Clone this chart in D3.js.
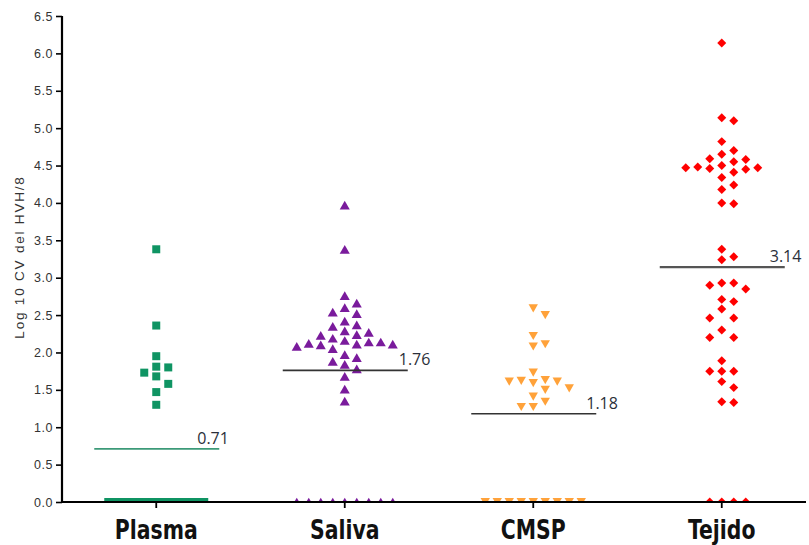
<!DOCTYPE html>
<html>
<head>
<meta charset="utf-8">
<script src="https://cdn.jsdelivr.net/npm/d3@7"></script>
<style>
  html, body { margin: 0; padding: 0; background: #fff; }
  svg { display: block; }
</style>
</head>
<body>
<svg id="chart" width="809" height="545"></svg>
<script>
// ---------- data ----------
const categories = ["Plasma", "Saliva", "CMSP", "Tejido"];

const plasmaValues = [3.38, 2.36, 1.95, 1.81, 1.80, 1.73, 1.68, 1.58, 1.47, 1.30,
  0, 0, 0, 0, 0, 0, 0, 0, 0, 0, 0, 0, 0, 0, 0, 0, 0];

const salivaValues = [3.97, 3.38, 2.76, 2.66, 2.60, 2.54, 2.52, 2.42, 2.37, 2.35,
  2.29, 2.27, 2.24, 2.23, 2.19, 2.16, 2.14, 2.14, 2.12, 2.11, 2.11, 2.10, 2.08,
  2.05, 1.97, 1.93, 1.88, 1.84, 1.78, 1.68, 1.51, 1.35,
  0, 0, 0, 0, 0, 0, 0, 0, 0];

const cmspValues = [2.59, 2.50, 2.22, 2.11, 2.08, 1.73, 1.63, 1.62, 1.61, 1.61,
  1.59, 1.52, 1.50, 1.41, 1.34, 1.27, 1.27,
  0, 0, 0, 0, 0, 0, 0, 0, 0];

const tejidoValues = [6.14, 5.14, 5.10, 4.82, 4.70, 4.65, 4.59, 4.58, 4.55, 4.50,
  4.48, 4.47, 4.47, 4.46, 4.45, 4.41, 4.34, 4.24, 4.18, 4.00, 3.99, 3.38, 3.28,
  3.24, 2.93, 2.93, 2.90, 2.85, 2.71, 2.68, 2.58, 2.46, 2.46, 2.30, 2.20, 2.20,
  1.89, 1.75, 1.75, 1.75, 1.61, 1.53, 1.34, 1.33,
  0, 0, 0, 0];

const meanValues = [0.71, 1.76, 1.18, 3.14];
const meanLabels = ["0.71", "1.76", "1.18", "3.14"];
const yTickValues = [0, 0.5, 1, 1.5, 2, 2.5, 3, 3.5, 4, 4.5, 5, 5.5, 6, 6.5];
const yTitle = "Log 10 CV del HVH/8";

const seriesValues = [plasmaValues, salivaValues, cmspValues, tejidoValues];

// ---------- styles ----------
const colors = ["#0f9463", "#7a1b9c", "#ffa23a", "#ff0000"];
const meanLineColors = ["#3c9a78", "#333333", "#333333", "#555555"];
const meanLineWidths = [1.6, 1.6, 1.6, 2.2];
const meanLabelDx = [41, 54, 53, 48];

// ---------- layout ----------
const svg = d3.select("#chart");
const mLeft = 62, mRight = 816, mTop = 16, mBottom = 502;

const x = d3.scaleBand().domain(categories).range([mLeft, mRight]);
const y = d3.scaleLinear().domain([0, 6.5]).range([mBottom, mTop]);

svg.append("defs").append("clipPath").attr("id", "plotClip")
  .append("rect").attr("x", mLeft).attr("y", 0).attr("width", 809 - mLeft).attr("height", mBottom);

// symbols (triangles re-centred on their bounding box)
const triSize = 44, triDownSize = 38;
const triShift = s => Math.sqrt(s / (Math.sqrt(3) * 3)) / 2;
const symbols = [
  { path: d3.symbol().type(d3.symbolSquare).size(64)(), rot: 0, dy: 0 },
  { path: d3.symbol().type(d3.symbolTriangle).size(triSize)(), rot: 0, dy: triShift(triSize) },
  { path: d3.symbol().type(d3.symbolTriangle).size(triDownSize)(), rot: 180, dy: triShift(triDownSize) },
  { path: d3.symbol().type(d3.symbolSquare).size(40)(), rot: 45, dy: 0 }
];

// beeswarm layout
const slotW = 12;
const minDy = 9;
function layout(values, cx) {
  const pts = values.map(v => ({ v, py: y(v) }));
  const nz = pts.filter(p => p.v !== 0).sort((a, b) => b.v - a.v);
  const zs = pts.filter(p => p.v === 0);
  const order = [0, 1, -1, 2, -2, 3, -3, 4, -4, 5, -5, 6, -6];
  const placed = [];
  nz.forEach(p => {
    for (const k of order) {
      const clash = placed.some(q => q.k === k && Math.abs(q.py - p.py) < minDy);
      if (!clash) { p.k = k; p.px = cx + k * slotW; placed.push(p); break; }
    }
  });
  const n = zs.length;
  const sp = n > 1 ? Math.min(slotW, (8 * slotW) / (n - 1)) : 0;
  const zOrder = [];
  for (let i = 0; zOrder.length < n; i++) {
    if (i === 0) zOrder.push(0); else { zOrder.push(i); if (zOrder.length < n) zOrder.push(-i); }
  }
  zs.forEach((p, i) => { p.px = cx + zOrder[i] * sp; });
  return nz.concat(zs);
}

// points
const plot = svg.append("g").attr("clip-path", "url(#plotClip)");
categories.forEach((c, i) => {
  const cx = x(c) + x.bandwidth() / 2;
  const pts = layout(seriesValues[i], cx);
  plot.append("g").selectAll("path").data(pts).join("path")
    .attr("d", symbols[i].path)
    .attr("transform", d => `translate(${d.px},${d.py}) rotate(${symbols[i].rot}) translate(0,${symbols[i].dy})`)
    .attr("fill", colors[i]);
});

// mean lines
categories.forEach((c, i) => {
  const cx = x(c) + x.bandwidth() / 2;
  const my = y(meanValues[i]);
  svg.append("line")
    .attr("x1", cx - 62).attr("x2", cx + 63)
    .attr("y1", my).attr("y2", my)
    .attr("stroke", meanLineColors[i]).attr("stroke-width", meanLineWidths[i]);
  svg.append("text")
    .attr("x", cx + meanLabelDx[i]).attr("y", my - 5)
    .attr("font-family", "'Open Sans', 'Liberation Sans', sans-serif")
    .attr("font-size", 16)
    .attr("fill", "#2b2f3a")
    .text(meanLabels[i]);
});

// y axis
const yAxis = svg.append("g").attr("transform", `translate(${mLeft},0)`)
  .call(d3.axisLeft(y).tickValues(yTickValues).tickFormat(d3.format(".1f")).tickSize(6).tickPadding(3));
yAxis.select(".domain").attr("stroke", "#000").attr("stroke-width", 2.2).attr("d", `M0,${mTop}V${mBottom}`);
yAxis.selectAll(".tick line").attr("stroke", "#000").attr("stroke-width", 1.6);
yAxis.selectAll(".tick text")
  .attr("font-family", "'Liberation Sans', Arial, sans-serif")
  .attr("font-size", 12.5).attr("letter-spacing", "0.5px")
  .attr("fill", "#333");

// x axis
const xAxis = svg.append("g").attr("transform", `translate(0,${mBottom})`)
  .call(d3.axisBottom(x).tickSize(6).tickPadding(12));
xAxis.select(".domain").attr("stroke", "#000").attr("stroke-width", 1.8).attr("d", `M${mLeft},0H806`);
xAxis.selectAll(".tick line").attr("stroke", "#000").attr("stroke-width", 1.8);
xAxis.selectAll(".tick text")
  .attr("font-family", "'DejaVu Sans Condensed', 'DejaVu Sans', sans-serif")
  .attr("font-weight", "bold")
  .attr("font-size", 27)
  .attr("fill", "#111")
  .attr("dy", "0.71em")
  .each(function () {
    const w = this.getComputedTextLength();
    d3.select(this).attr("textLength", w * 0.84).attr("lengthAdjust", "spacingAndGlyphs");
  });

// y title
svg.append("text")
  .attr("transform", "translate(24,257) rotate(-90)")
  .attr("text-anchor", "middle")
  .attr("font-family", "'Liberation Sans', Arial, sans-serif")
  .attr("font-size", 13.5)
  .attr("letter-spacing", "1.8px")
  .attr("fill", "#333")
  .text(yTitle);
</script>
</body>
</html>
